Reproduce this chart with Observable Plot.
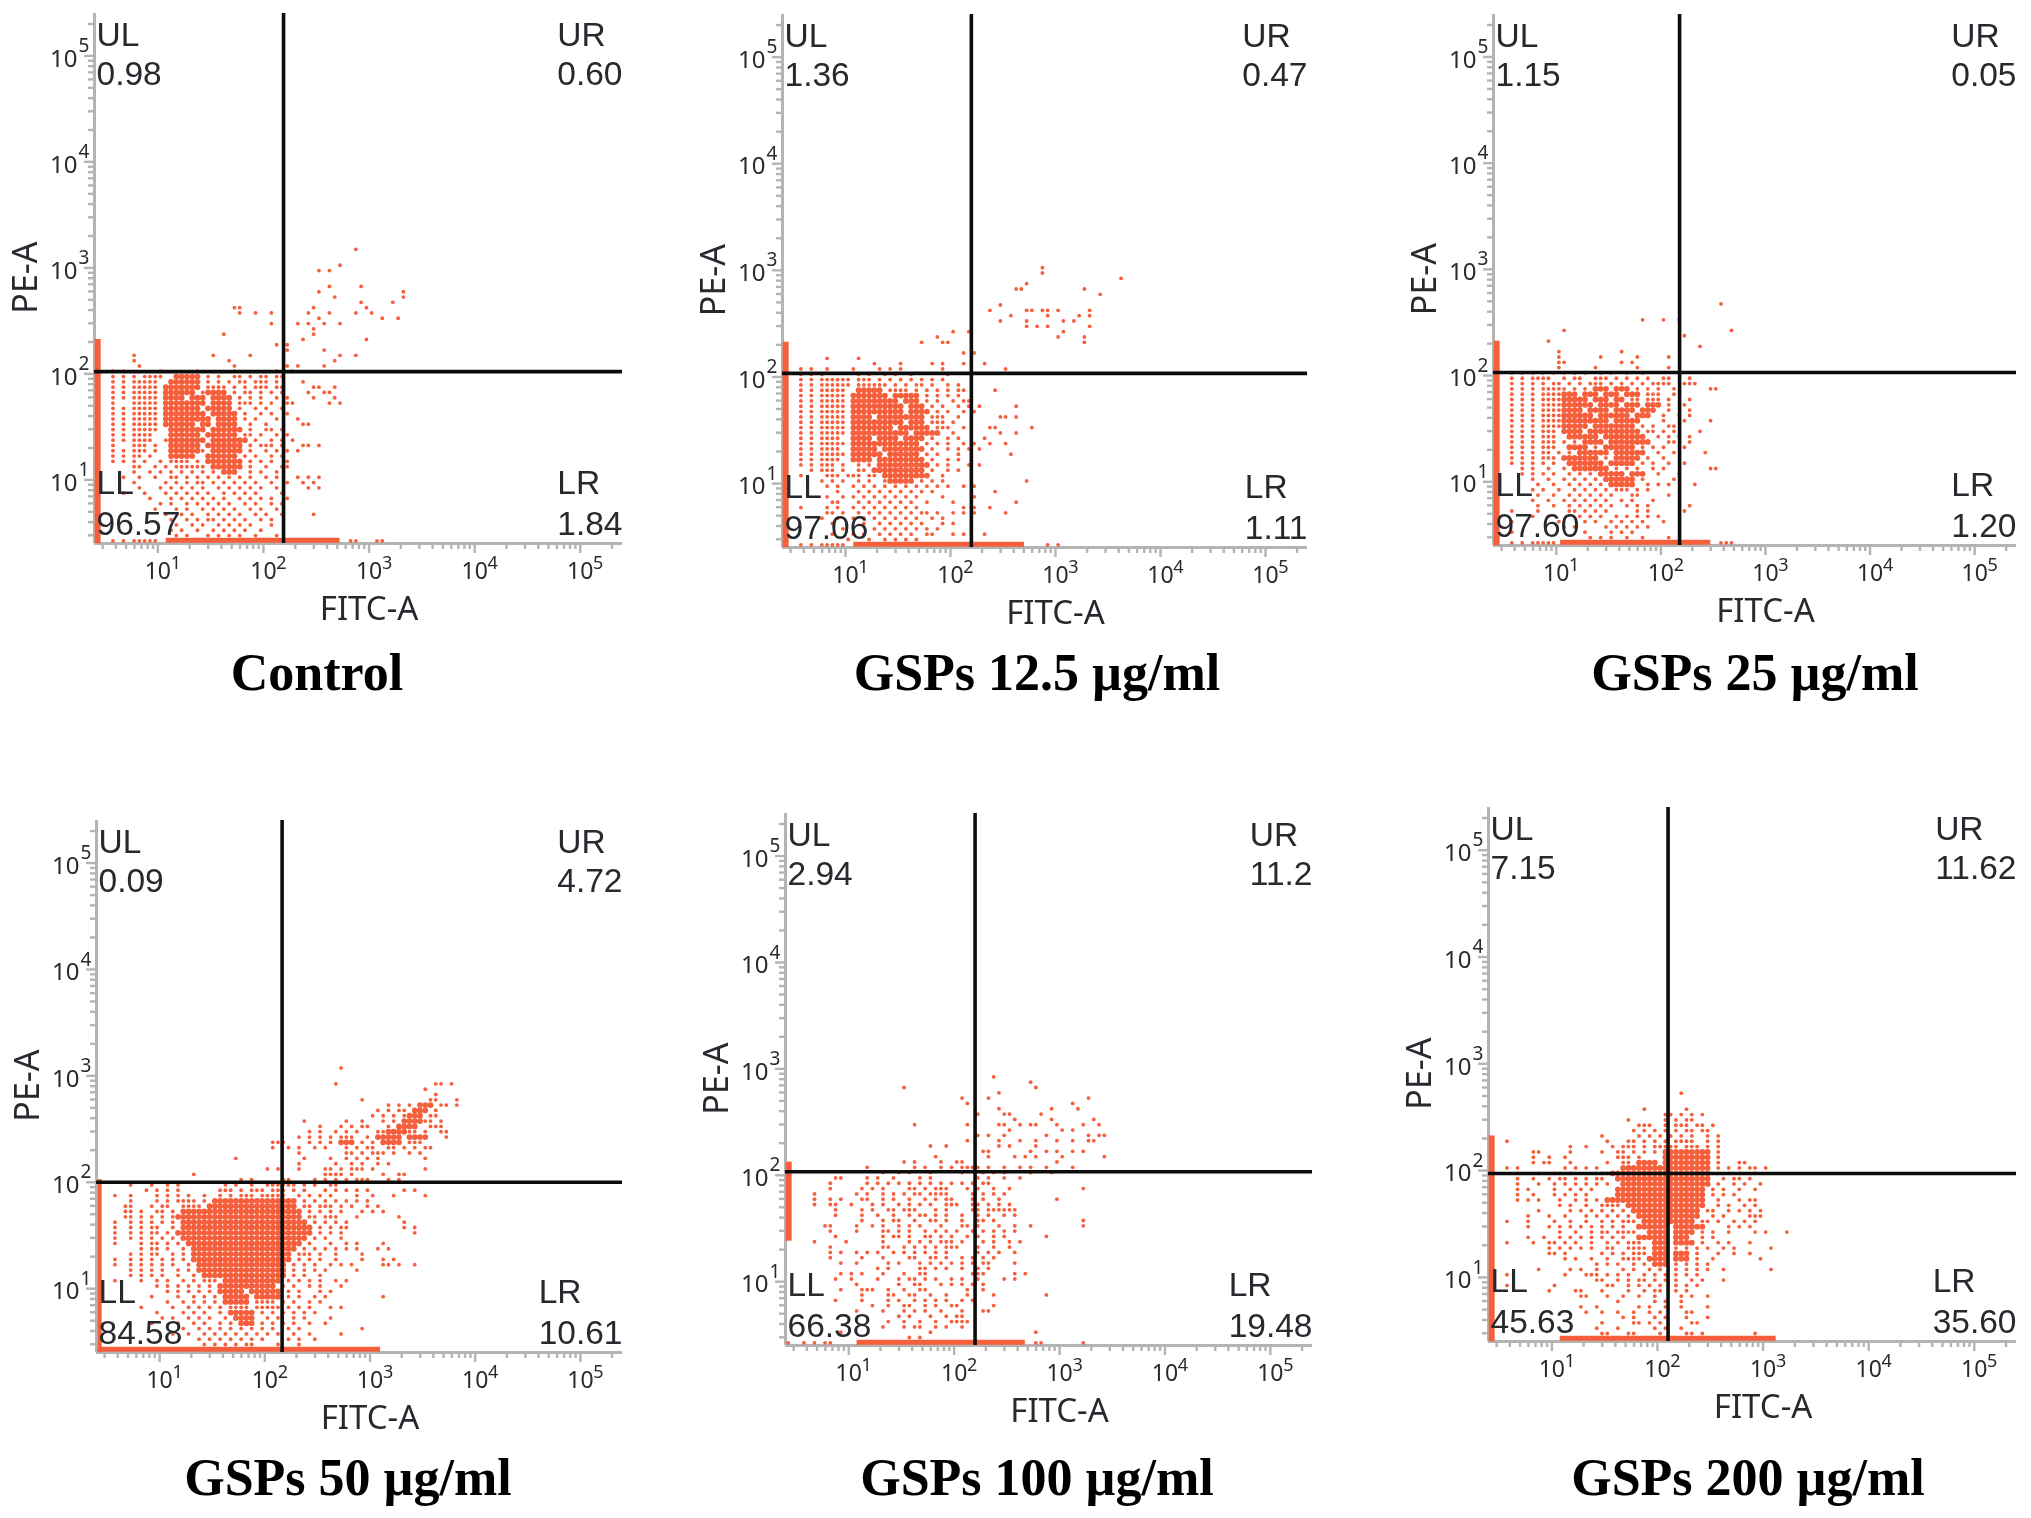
<!DOCTYPE html>
<html><head><meta charset="utf-8">
<script src="https://cdn.jsdelivr.net/npm/d3@7"></script>
<script src="https://cdn.jsdelivr.net/npm/@observablehq/plot@0.6"></script>
<style>
html,body{margin:0;background:#fff}
#page{position:relative;width:2031px;height:1518px;overflow:hidden;background:#fff}
#page svg{position:absolute;filter:blur(.45px);overflow:visible}
.t{position:absolute;transform:translateX(-50%);font:bold 52px "Liberation Serif",serif;white-space:nowrap;color:#000;line-height:60px}
</style></head><body><div id="page"></div>
<script>
const titles=["Control","GSPs 12.5 µg/ml","GSPs 25 µg/ml","GSPs 50 µg/ml","GSPs 100 µg/ml","GSPs 200 µg/ml"];
const ulValues=["0.98","1.36","1.15","0.09","2.94","7.15"];
const urValues=["0.60","0.47","0.05","4.72","11.2","11.62"];
const llValues=["96.57","97.06","97.60","84.58","66.38","45.63"];
const lrValues=["1.84","1.11","1.20","10.61","19.48","35.60"];
const gateX=[155,158,151,146,158,126];
const gateY=[105,108,107,100,108,94];
const bottomStrip=[[12,531],[12,507],[11,300],[2.6,1260],[12,473],[12,1330]];
const leftStrip=[[2.5,211],[2.5,211],[2.5,211],[2.5,106],[24,133],[2.5,211]];
const decades=[1,2,3,4,5];
const minorTicks=[3,4,5,6,7,8,9,20,30,40,50,60,70,80,90,200,300,400,500,600,700,800,900,2000,3000,4000,5000,6000,7000,8000,9000,20000,30000,40000,50000,60000,70000,80000,90000,200000];
/* Events, one row per 0.05 decade of PE-A: "row|columns", a column being 0.05 decade of FITC-A; # = solid run */
const controlCells=["55|49","52|46","51|42 44","48|44 50","47|42 58","46|45 58","45|56 50","44|26 27 41 51","43|27 30 33 40 44 49 52","42|54 57 42","41|33 38 40 43 46","40|41","39|24 41","38|39 51","37|34 36","36|36 43","35|7 22 29 46 49","34|7 25 45","33|8 26 36 43 38","32|3 5 12 19 26 34 37",
"31|3 5 7 9-12 15-19# 21 23 26 27 29 31 32 34 35","30|3 5 7-11 14-19# 21 23 25 27 28 30 31 32 34 39","29|3 5 7-11 13-19# 21-24 26 28 30-32 34 35 41 42 45","28|3 5 7-11 13-18# 20 21-24# 26 28 29 31 33 35 40 43 44","27|3 5 7-11 13-16# 18-20# 22-25# 27 29 31 34 36 41 45","26|3 7-11 13-20# 22-25# 27-29 31 33 36 37 44 46","25|3 5 7-11 13-19# 21-25# 27 30 32 35","24|3 5 7-11 13-20# 22-26# 28 31 33 36","23|3 5 7-11 13-21# 23-26# 28 30 34 38","22|3 5 7-11 13-18# 20-21# 23-26# 29 32 39 40","21|3 5 7-11 14-20# 22-27# 29 32 33 35","20|3 5 7-10 14-19# 21-26# 28 29 31 34 36","19|3 5 7-10 13 14-20# 22-28# 30 33 35 37","18|3 7-9 11 14-19# 21-27# 29 31-33 35 39 40 42","17|3 5 7-9 11 14-19# 20 22-27# 29 32 34 36 38","16|3 5 7 8 10 14-18# 21-26# 28 30 33 35","15|3 5 7 9 12 14-17 19 21-27# 29 31 33 36","14|7 8 11 13 15-20 22-27# 29 32 35 36","13|7 10 12 14 16 18 20 22 24-26# 29 31 34","12|5 8 11 14 15 17 19 21 23 25 27 29 32 34 38 40 42","11|7 13 15 17 19 20 22 24 26 28 30 33 36 39 41","10|8 12 14 16 18 20 23 25 27 29 31 34 40 42","9|5 9 13 15 17 19 21 24 26 28 30 35","8|10 14 16 18 20 22 24 27 29 31 33 36","7|12 14 17 19 21 23 25 28 30 33 35","6|11 15 17 20 22 24 26 29 31 34","5|13 16 18 21 23 25 27 30 32 35 41","4|14 17 19 21 22 24 26 28 31 33","3|15 18 20 23 25 27 29 33","2|14 16 19 22 24 26 28 31","1|15 17 21 23 25 27 30 34","0|3 5 7-11 48 49 53 54"];
const gsp125Cells=["52|49","51|49","50|64","49|46","48|44 45 57","47|60","45|41","44|46 47 39 49 50 52 58","43|43 50 56 58","42|41 46 53 55","41|46 48 50 58","40|32 35 53","39|29 52 57","38|26 30 31 57","36|34 36","35|8 14","34|17 22 28 30 34 38","33|3 5 8 13 18 20 22 30 42","32|3 5 7 14 16 19 21 24 31",
"31|3 5 7-12 14-16 18 20 22 24 26 28 30","30|3 5 7-12 14-19 21 23 25 26 28 31 33","29|3 5 7-11 14-18# 20-23 25 27 29 31 33 34 40","28|3 5 7-11 13-19# 21-25# 27 29 31 33","27|3 5 7-11 13-21# 23-25# 27 29 32 34 35","26|3 5 7-11 13-22# 24-26# 28 30 33 35 37 44","25|3 5 7-11 13-22# 24-27# 29 31 34 36","24|3 5 7-11 13-16# 18-26# 28-30 33 41 42 44","23|3 5 7-11 13-22# 24-26# 28-30 32","22|3 5 7-11 13-20# 22-27# 29-31 34 39 40 47","21|3 5 7-11 13-23# 25-29# 32 41 44","20|3 5 7-10 13-16# 18-21# 23-26# 28 31 33 38","19|3 5 7-11 13-25# 27 29 31 34 36 39 42","18|3 5 7-10 13-17# 19-26# 28 31 33 35 37","17|3 5 7-11 13-18# 20-25# 27 29 33 43","16|3 5 7-10 13-16# 18-26# 28 31 33","15|3 5 7-9 11 14 16 18-27# 29 31 35 37","14|5 7-9 11 14 15 17-26# 28 31 33","13|3 8-10 12-14 16 17 19-27# 30","12|7 9 11 14 16 19 20-24# 26 28 30 46","11|8 10 13 15 17 19 21 23 25 27 29 31 34 36","10|10 14 16 18 20 22 24 26 28 40","9|8 11 13 15 17 19 21 23 25 30 36","8|9 10 14 16 18 20 22 24 27 32 44","7|3 8 10 13 15 17 19 21 23 25 34 36 39","6|8 9 11 14 16 18 20 22 24 26 27 29 32 34 36 42","5|7 10 13 15 17 19 21 23 25 28 30","4|9 15 18 20 22 24 26 30 32","3|11 17 19 21 23 25 27 29","2|9 13 15 18 20 22 24 27 28 32 34 38","1|12 16 19 21 23 25","0|3 5 7-11 50 52"];
const gsp25Cells=["45|43","42|28 32 35","40|13 45","39|36","38|10","37|39","36|12 24","35|12 33 20 27","34|12 13 24 26","33|12 19 27 33","32|3 5 7 9 11 13 15 17 20 22 25 28",
"31|3 5 7 8 9 10 13 15 16 19-21 23 25 27 29 32 33 37","30|3 5 7 9 11 12 14 16 18-20 22 24 26 28 30-33 36 37 38","29|3 5 7 9-12 13 15 17 19-21# 23-25# 27 29 31 34 41 42","28|3 5 7 9-12 13-15# 17-19# 21-23# 25-27# 29-31 34","27|3 5 7 9-12 13-17# 19-21# 23-24# 26 27 29 30 31 33 37","26|3 5 7 9-12 13-18# 20-23# 25-27# 29-31# 33 36","25|3 5 7 9-12 13-16# 18-21# 23-26# 28-30# 33 37","24|3 5 7 9-12 13-18# 20-25# 27-29# 32 35 37","23|3 5 7 9-12 13-21# 23-27# 32 36 41","22|3 5 7 9-12 13-17# 19-26# 28 30 33 34","21|3 5 7 9-11 13-16# 18-27# 29 30 32 34 39","20|3 5 7 9-11 14-19# 21-28# 31 33 35 37","19|3 5 7 9-11 13 15 17-20# 22-29# 33 34 37","18|3 5 7 9-11 14-17# 19 21-26# 28 30 32 36","17|3 5 7 9 10 12 14 16-21# 23-28# 31 34 40","16|3 5 7 9-11 13-19# 21 23-27# 29 32","15|3 5 7 9 11 14-20# 22-26# 28 30 33 36","14|5 7 10 13 15-21# 23 25 27 30 32 41 42","13|5 7 9 11 14 16 18 20-24# 26-28# 31 35","12|7 10 13 15 17 19 21-26# 28 34","11|8 11 14 16 18 20 22-26# 29 31 33 38","10|7 9 12 15 17 19 21 23-25 27 29","9|8 11 14 16 18 20 22 26 27 33","8|7 10 13 15 17 19 21 24 26 30","7|8 11 14 16 18 20 22 25 27 29 37","6|3 8 14 15 17 19 21 27 29 36","5|7 10 16 18 20 23 25 27 29 31","4|3 12 17 19 22 24 26 28 32","3|13 15 21 23 25 27 29","2|3 17 22 24 26","1|18 20 22 25 28 33","0|3 5 7-11 43 44 45"];
const gsp50Cells=["53|46","50|45 64 65 67","49|62","48|64","47|50 63 64 68","46|55 57 59 61-63# 65 66 68","45|53 55 57 58 60-62# 64","44|52 54 56 58 59-61# 63 64","43|39 47 50 54 56 58-61# 62 63 65","42|42 46 48 50 51 55 57-60# 63 64 65","41|40 42 45 47 49 53 54 55-58# 59 60 62 65 66","40|38 40 42 44 46-48 51 53-57# 59-62# 66","39|33 34 35 40 42 44 46-48# 50 52 54-57# 59-61","38|33 36 38 41 43 47 49 51 52 55 56 58 60 62 63","37|38 47 48 50 52 53 54 56 59 61","36|26 39 44 47 49 51 53 62","35|38 45 48 50 53 55","34|32 34 38 43 44 46 48 49 50 52 62","33|18 43 44 45 46 48 54 57 58","32|27 29 35 36 41 43 45 47 49 50 51 55 57",
"31|6 10 13 15 24 26 29 32-37 39 41 44 45","30|9 11 13 15 23-25 27 29-31 33-35 37 39 43 45 47 49 51 58 60","29|3 6 11 13 15 17 20 23 25 27-29 31-35 38 40 42 44 49 52 56 62","28|6 11 13 15-18 20 22-37# 39 41 43 45 47 49 51","27|5 6 10 12 13 16-19 21-37# 39 40 42-44 46 48 51 53","26|5 6 8 11 12 14 16-20# 21-38# 40 42 44 46 50 52 54","25|5 6 8 10 12 14 15-38# 40 41 43-45 49 57","24|3 6 8 10 12 14 16-39# 41 43 45 47 58","23|3 6 8 10 11 14 16-40# 42 44 46 47 58 60","22|3 6 8 10 11 13 15-40# 42 44 46 60","21|3 6 8 10 12 14 16-39# 41 43 46","20|3 8 10 11 13 15 17-38# 40 44 47 49 54","19|8 10 11 13 16 18-37# 39 41 43 45 47 49 53 55","18|6 8 10 11 14 16 18-36# 38-40 42 45 50","17|3 6 8 10 12 14 16 18-36# 38 40 42 45 50 54 56","16|3 6 8 10 12 14 17 19-35# 37 39 41 44 46 48 54 55 57 60","15|6 8 10 12 15 17 19-35# 37 39 41 43 49","14|6 8 10 12 15 18 20-35# 37 39 42","13|3 8 11 13 16 18 20-22 24-34# 36 38 40 42 45 47","12|11 13 15 17 19 21 23-33# 35 37 40 42 46","11|13 15 17 19 21 23-27# 29-34# 36 38 42 44","10|10 15 18 20 22 24-28# 30-34# 36 38 41 43 54","9|13 16 18 20 22 24-28# 30-33 35 37 40 42","8|8 14 17 19 21 23 25-28 30-34 36 38 40 44 46","7|11 16 18 20 23 25-29# 31 33 35 37 39 41","6|12 14 17 19 21 24 26-29# 32 34 37 39 44","5|10 15 18 20 23 25 27-29# 31 33 35 37 40 43","4|16 19 21 23 25 27 29 31 33 36 38 50","3|14 17 20 22 24 26 28 30 32 34 37 40 46","2|19 21 23 25 27 29 31 36 38 41","1|20 22 24 26 28 29 34 38"];
const gsp100Cells=["50|39","49|46","48|22 47","47|40","46|33 38 57","45|34 54","44|40 50 55","43|36 41 42 48","42|43 50 58","41|24 34 40 41 44 46 47 51 56 59","40|42 52 54","39|36 38 41 49 57 59 60","38|34 40 44 47 51 54 57 58","37|27 30 40 42 47","36|37 38 46 49 51 54 56","35|28 38 43 45 47 52 60","34|22 24 29 32 33 51","33|15 24 26 29 31 33 34 35 36 38 41 44 46 49 54","32|18 21 23 27 33 37 39 41 46 50",
"31|9 10 15 17 20 25 27 36 38 41 44","30|8 15 17 19 21 23 25 27 29 31 33 35 37 38","29|8 14 16 18 23 24 26 28 29 30 34 36 39 42 56","28|5 13 15 18 20 22 24 25 27-30 35 37 39 41","27|5 8 10 14 15 18 20 23 26 28 30 31 35 37 40 51","26|5 8 9 12 16 18 21 23 25 27 30-32 35 36 38 40 42","25|9 14 16 19 20 22-24 28 30 35 36 38-43","24|9 14 17 20 23 25 26 28 30 33 36 38 41 43","23|14 18 20 21 24 27 28 30 33 36 37 39 56","22|7 8 13 16 18 21 23 25 29 33 34 36 40 43 46 56","21|8 13 18 19 21 23 26 28 30 32 35 37 39 41 43","20|9 18 20 21 23 26 27 29 31 34 36 39 41 49","19|5 11 18 23 25 27 29 30 31 33 37 39 42 44","18|8 18 19 22 24 26 28 30-32 36 39 42","17|8 10 13 15 17 20 22 24 26 28 30 36 38 40 43","16|8 14 18 23 24 27 28 30 33 35 37 39","15|10 13 19 21 25 27 29 31 33 35 37 38 43","14|17 19 25 26 28 30 33 36 38","13|10 12 14 18 22 25 26 35 36 37 43 45","12|9 12 17 21 23 24 26 28 31 33 36 41 43","11|13 21 24 25 29 31 33 35 37","10|10 14 15 16 19 22 25 26 34 37","9|14 19 20 23 24 27 30 34 39 49","8|9 14 19 21 24 26 28 30 33 35","7|16 19 22 23 26 28 31 32 39","6|13 18 22 24 26 29 33 37 38","5|21 23 27 30 32 33","4|19 25 28 31 32 34 22 33","3|18 22 24 25 28 30 33","2|10 27 47","1|23 25","0|0 3 5 7 8 47 48 56"];
const gsp200Cells=["46|36","43|29 37","42|33 34 36 38 40","41|26 33 35 37 38","40|28 29 30 33 35 36 37 39 40 42","39|27 29 31 33 35 37 38 40 41","38|21 28 30 32 34 36 38 41 43","37|3 22 26 27 29 31 33 35-38 41 43","36|15 18 23 25 26 27 29 31 32 33-35 37 38 39 41 43","35|8 9 15 21 24 25 27 29 31 33-41# 43","34|8 11 14 24 25 26 28 33-41# 43","33|8 10 11 15 22 25 26 28-31# 33-41# 43 47 48","32|3 5 14 16 18 20 25-32# 33-41# 43 45 47 49 50 52",
"31|5 9 12 13 15 20 21 22 23-41# 43 45 47 50","30|5 8 11 13 14 16 18 20 21 24-41# 44 46 47 49","29|5 9 12 14 16 18 20 22 25-41# 43 46 48 51","28|5 7 12 15 17 19 24-40# 42 44 47 50","27|5 8 12 14 16 18 24-40# 42 44 46","26|5 7 9 13 16 18 20 22-40# 43 47 49 50","25|13 15 18 21 22-24 26-40# 43 45 48 50","24|9 15 17 19 21 23 25 27-39# 41 42 45 47 49 51","23|7 11 14 18 20 22 24 26 28-39# 42 44 49 50 51","22|3 7 12 15 18 21 23 25-27 29-38# 40 41 43 46 48 50","21|7 11 13 15 17 19 21 23 25 28-33# 35-40# 45 47 49","20|13 16 19 21 22 24-27 30-33# 35-38# 40 42 45 50 52 56","19|7 10 13 15 17 19 21 23 25 28-33# 35-37# 40 42","18|3 8 11 12 14 16 19 22 24 26-28 31-33# 35-38# 40 43 45 49","17|11 13 15 17 19 22 23 26-29 31-33# 35 37 39 41 44 46 53","16|11 12 14 21 23 25 27-29 31-33# 35-37# 39 43 46 49","15|14 16 19 22 25-28 30-33# 35-37# 39 42 51","14|20 22 24 27 29 31-33# 35 37 39 41","13|9 15 17 20 25 27 30 32 35 37 39 41 44 53","12|3 14 18 19 20 22 24 26 29 31 33 35 37 39","11|20 21 24 26 28 29 31 33 35 38 40 44","10|3 12 22 23 26 28 30 32 35 37 39","9|11 16 17 21 26 29 31 32 35 37","8|17 18 22 25 28 31 36 38 41","7|24 31 33 36","6|17 20 28 30 33 36 41","5|18 21 24 27 30 32 37 38","4|25 27 31 33 37 41","3|21 27 28 30 32 38 39","2|20 24 31 33 36","1|21 22 26 27 32 37 38 40 50"];
const panelCells=[controlCells,gsp125Cells,gsp25Cells,gsp50Cells,gsp100Cells,gsp200Cells];
const frames=[[94,13,528,530],[782,14,525,533],[1493,14,523,531],[96,820,526,532],[785,813,527,532],[1488,807,528,534]];
const titleAt=[[317,645],[1037,645],[1755,645],[348,1450],[1037,1450],[1748,1450]];
const red="#f65f3c", tickGrey="#b4b4b4", ink="#26292e";
const tickFont='"Liberation Sans Narrow","Noto Sans",sans-serif', labelFont='"Noto Sans",sans-serif', cornerFont='"Liberation Sans",sans-serif';
const LO=Math.pow(10,.4), HI=Math.pow(10,5.4);
const cv=document.createElement("canvas").getContext("2d");
function decode(rows){const out=[];for(const row of rows){const [r,body]=row.split("|");for(const tok of body.trim().split(/\s+/)){const solid=tok.endsWith("#");const [a,b]=tok.replace("#","").split("-").map(Number);for(let c=a;c<=(b===undefined?a:b);c++)out.push({x:Math.pow(10,.425+.05*c),y:Math.pow(10,.425+.05*(+r)),solid});}}return out;}
const ml=90,mt=10,mr=12,mb=90;
titles.forEach((title,i)=>{
  const [L,T,W,H]=frames[i];
  const pts=decode(panelCells[i]);
  const cornerText=(txt,anchor,dx,dy,ta)=>Plot.text([txt],{text:d=>d,frameAnchor:anchor,dx,dy,textAnchor:ta,lineAnchor:"middle",fontSize:33.5,fontFamily:cornerFont,fill:ink});
  cv.font='33.5px "Liberation Sans"';
  const urW=cv.measureText(urValues[i]).width, lrW=cv.measureText(lrValues[i]).width;
  const svg=Plot.plot({
    width:W+ml+mr,height:H+mt+mb,marginLeft:ml,marginTop:mt,marginRight:mr,marginBottom:mb,
    x:{type:"log",domain:[LO,HI],axis:null},y:{type:"log",domain:[LO,HI],axis:null},
    style:{background:"transparent"},
    marks:[
      Plot.axisX({ticks:minorTicks,tickSize:6,tickFormat:()=>"",label:null,stroke:tickGrey,strokeWidth:2.4}),
      Plot.axisX({ticks:decades.map(d=>10**d),tickSize:10,tickFormat:()=>"",label:null,stroke:tickGrey,strokeWidth:2.4}),
      Plot.axisY({ticks:minorTicks,tickSize:6,tickFormat:()=>"",label:null,stroke:tickGrey,strokeWidth:2.4}),
      Plot.axisY({ticks:decades.map(d=>10**d),tickSize:10,tickFormat:()=>"",label:null,stroke:tickGrey,strokeWidth:2.4}),
      Plot.ruleY([LO],{stroke:tickGrey,strokeWidth:3}),
      Plot.ruleX([LO],{stroke:tickGrey,strokeWidth:3}),
      Plot.text(decades,{x:d=>10**d,frameAnchor:"bottom",lineAnchor:"middle",dy:28,text:()=>"10",fontSize:23,fontFamily:tickFont,fill:ink}),
      Plot.text(decades,{x:d=>10**d,frameAnchor:"bottom",lineAnchor:"middle",dx:18,dy:20,text:d=>String(d),fontSize:18,fontFamily:tickFont,fill:ink}),
      Plot.text(decades,{y:d=>10**d,frameAnchor:"left",lineAnchor:"middle",dx:-17,dy:3,textAnchor:"end",text:()=>"10",fontSize:24,fontFamily:tickFont,fill:ink}),
      Plot.text(decades,{y:d=>10**d,frameAnchor:"left",lineAnchor:"middle",dx:-16,dy:-10,textAnchor:"start",text:d=>String(d),fontSize:19,fontFamily:tickFont,fill:ink}),
      Plot.text(["FITC-A"],{x:1000,frameAnchor:"bottom",lineAnchor:"middle",dy:66,text:d=>d,fontSize:33,fontFamily:labelFont,fill:ink}),
      Plot.text(["PE-A"],{y:810,frameAnchor:"left",lineAnchor:"middle",textAnchor:"middle",dx:-68,rotate:-90,text:d=>d,fontSize:34,fontFamily:labelFont,fill:ink}),
      Plot.dot(pts.filter(d=>!d.solid),{x:"x",y:"y",r:1.9,fill:red}),
      Plot.dot(pts.filter(d=>d.solid),{x:"x",y:"y",r:2.9,fill:red}),
      Plot.ruleY([Math.pow(10,.43)],{x1:bottomStrip[i][0],x2:bottomStrip[i][1],stroke:red,strokeWidth:5}),
      Plot.ruleX([Math.pow(10,.43)],{y1:leftStrip[i][0],y2:leftStrip[i][1],stroke:red,strokeWidth:i===3?4:6}),
      Plot.ruleX([gateX[i]],{stroke:"#0c0c0c",strokeWidth:3.6}),
      Plot.ruleY([gateY[i]],{stroke:"#0c0c0c",strokeWidth:3.6}),
      cornerText("UL","top-left",2,22,"start"),
      cornerText(ulValues[i],"top-left",2,61,"start"),
      cornerText("UR","top-right",-urW,22,"start"),
      cornerText(urValues[i],"top-right",0,61,"end"),
      cornerText("LL","bottom-left",2,-60,"start"),
      cornerText(llValues[i],"bottom-left",2,-19,"start"),
      cornerText("LR","bottom-right",-lrW,-60,"start"),
      cornerText(lrValues[i],"bottom-right",0,-19,"end")
    ]
  });
  svg.style.left=(L-ml)+"px";svg.style.top=(T-mt)+"px";
  document.getElementById("page").appendChild(svg);
  const t=document.createElement("div");t.className="t";t.textContent=title;
  t.style.left=titleAt[i][0]+"px";t.style.top=(titleAt[i][1]-2)+"px";
  document.getElementById("page").appendChild(t);
});
</script></body></html>
